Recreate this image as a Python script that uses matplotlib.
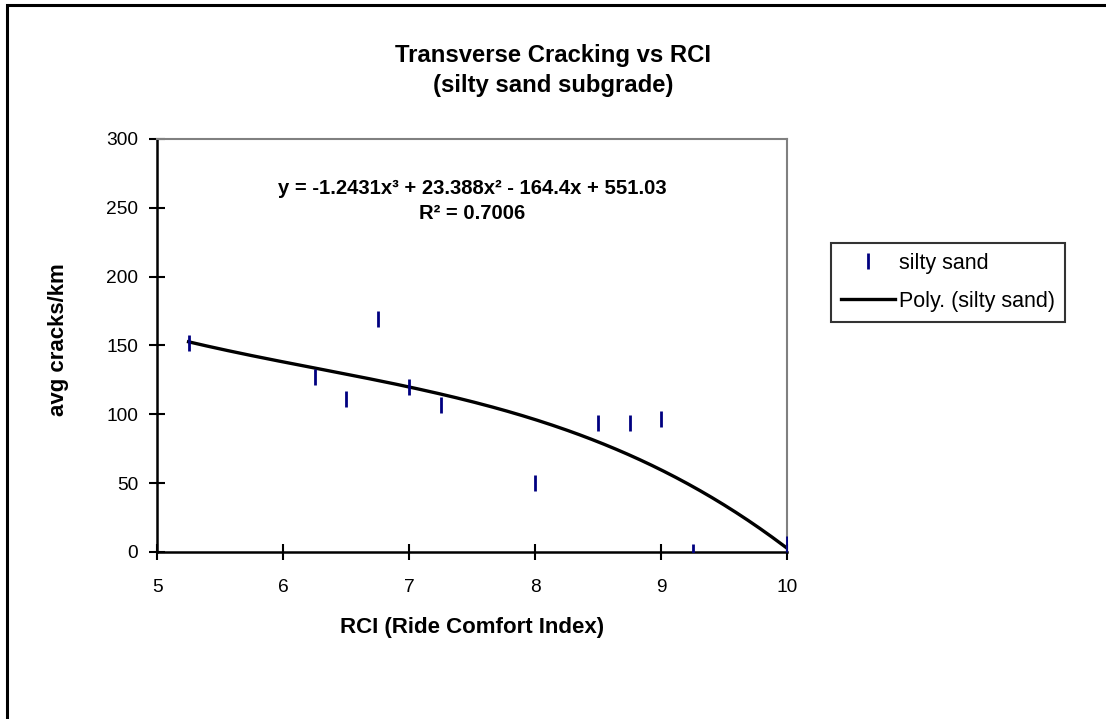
import matplotlib.pyplot as plt
import numpy as np
from matplotlib.patches import Rectangle

plt.rcParams['font.family'] = ['Liberation Sans', 'DejaVu Sans']

# Measured points (silty sand)
rci = [5.25, 6.25, 6.5, 6.75, 7.0, 7.25, 8.0, 8.5, 8.75, 9.0, 9.25, 10.0]
cracks = [152, 127, 111, 169.5, 120, 107, 50, 94, 94, 96.5, 0, 6]

# Trendline coefficients as printed on the chart
poly_coef = [-1.2431, 23.388, -164.4, 551.03]
r_squared = 0.7006

x_ticks = [5, 6, 7, 8, 9, 10]
y_ticks = [0, 50, 100, 150, 200, 250, 300]

fig = plt.figure(figsize=(11.06, 7.19), dpi=100)
ax = fig.add_axes([0.142, 0.2323, 0.5696, 0.5744])

# outer frame (right and bottom edges fall outside the picture)
fig.patches.append(Rectangle((0.0063, -0.05), 1.2, 1.043, transform=fig.transFigure,
                             fill=False, edgecolor='black', linewidth=2.2))

# Trendline
xs = np.linspace(min(rci), max(rci), 200)
ax.plot(xs, np.polyval(poly_coef, xs), color='black', linewidth=2.4,
        label='Poly. (silty sand)', zorder=2)

# Data points
ax.plot(rci, cracks, linestyle='none', marker='|', markersize=11,
        markeredgewidth=2, color='#000080', label='silty sand', zorder=3)

ax.set_xlim(5, 10)
ax.set_ylim(0, 300)
ax.set_xticks(x_ticks)
ax.set_yticks(y_ticks)
ax.tick_params(direction='inout', length=11, width=1.5, labelsize=13.8)
ax.tick_params(axis='y', pad=8)
ax.tick_params(axis='x', pad=14)

for side in ['left', 'bottom']:
    ax.spines[side].set_linewidth(1.8)
for side in ['top', 'right']:
    ax.spines[side].set_color('#808080')
    ax.spines[side].set_linewidth(1.5)

ax.set_xlabel('RCI (Ride Comfort Index)', fontsize=16, fontweight='bold')
ax.xaxis.set_label_coords(0.5, -0.182)
ax.xaxis.label.set_verticalalignment('center')
ax.set_ylabel('avg cracks/km', fontsize=16, fontweight='bold')
ax.yaxis.set_label_coords(-0.157, 0.513)
ax.yaxis.label.set_verticalalignment('center')

fig.text(0.5, 0.902, 'Transverse Cracking vs RCI\n(silty sand subgrade)',
         ha='center', va='center', fontsize=17.2, fontweight='bold', linespacing=1.4)

ax.text(0.5, 0.85,
        'y = -1.2431x³ + 23.388x² - 164.4x + 551.03\nR² = %.4f' % r_squared,
        transform=ax.transAxes, ha='center', va='center', fontsize=14.6,
        fontweight='bold', linespacing=1.35)

handles, labels = ax.get_legend_handles_labels()
leg = fig.legend(handles[::-1], labels[::-1], loc='upper left',
                 bbox_to_anchor=(0.7514, 0.662), fontsize=15.5, frameon=True,
                 fancybox=False, edgecolor='black', handlelength=2.5,
                 borderpad=0.45, labelspacing=0.8, handletextpad=0.2,
                 borderaxespad=0)
leg.get_frame().set_linewidth(1.5)

plt.savefig('out.png', dpi=100)
